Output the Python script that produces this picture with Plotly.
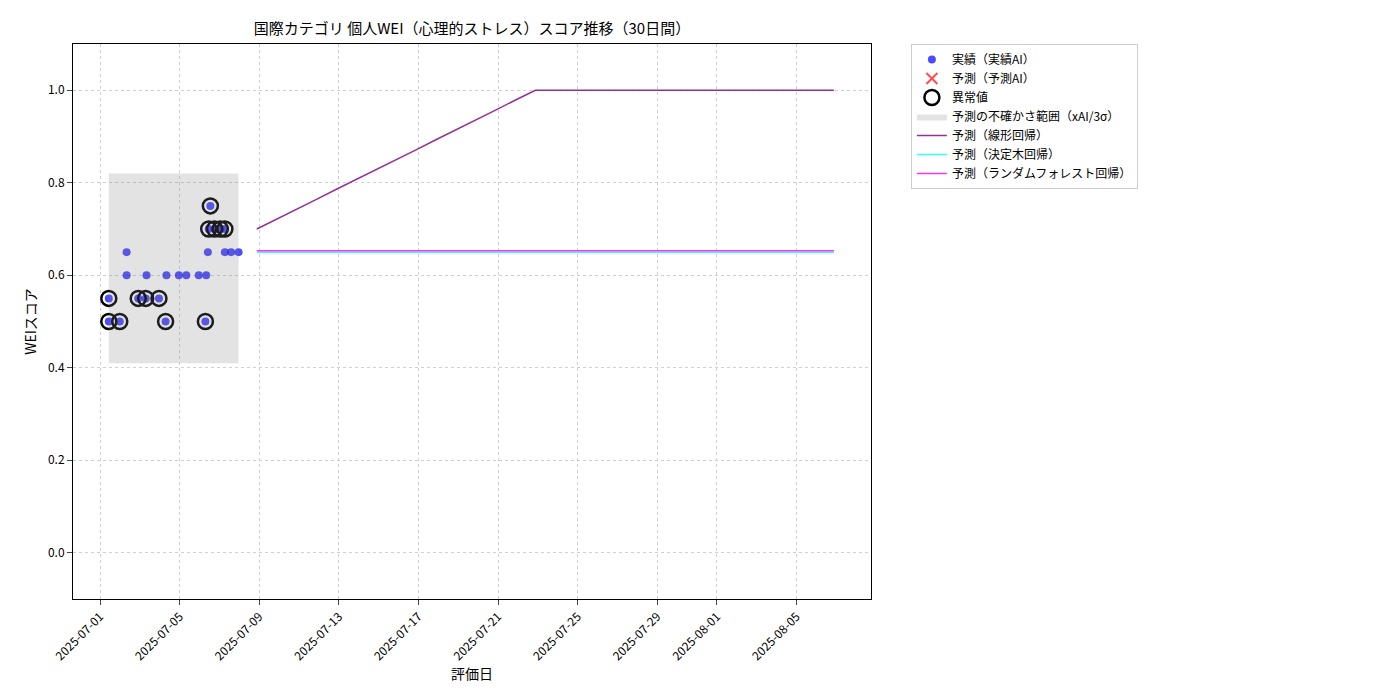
import plotly.graph_objects as go
import pandas as pd

act_x = ["2025-07-01 10:30","2025-07-01 10:30","2025-07-01 23:45","2025-07-02 08:00","2025-07-02 08:00",
         "2025-07-02 22:00","2025-07-03 07:00","2025-07-03 08:00","2025-07-03 23:00","2025-07-04 07:00",
         "2025-07-04 08:00","2025-07-04 23:00","2025-07-05 08:00","2025-07-05 23:00","2025-07-06 07:00",
         "2025-07-06 08:00","2025-07-06 10:00","2025-07-06 11:00","2025-07-06 13:00","2025-07-06 18:00",
         "2025-07-07 01:00","2025-07-07 06:30","2025-07-07 06:30","2025-07-07 14:00","2025-07-07 23:00"]
act_y = [0.55,0.50,0.50,0.65,0.60,
         0.55,0.55,0.60,0.55,0.50,
         0.60,0.60,0.60,0.60,0.50,
         0.60,0.65,0.70,0.75,0.70,
         0.70,0.70,0.65,0.65,0.65]
anom_x = ["2025-07-01 10:30","2025-07-01 10:30","2025-07-01 23:45","2025-07-02 22:00","2025-07-03 07:00",
          "2025-07-03 23:00","2025-07-04 07:00","2025-07-06 07:00","2025-07-06 11:00","2025-07-06 13:00",
          "2025-07-06 18:00","2025-07-07 01:00","2025-07-07 06:30"]
anom_y = [0.55,0.50,0.50,0.55,0.55,0.55,0.50,0.50,0.70,0.75,0.70,0.70,0.70]
band_x = ["2025-07-01 10:30","2025-07-07 23:00"]
band_lo = [0.41,0.41]
band_hi = [0.82,0.82]
pred_dates = pd.date_range("2025-07-08 21:00", periods=30, freq="D")
lin = [0.700,0.721,0.743,0.764,0.786,0.807,0.829,0.850,0.871,0.893,0.914,0.936,0.957,0.979,1.0] + [1.0]*15
tree = [0.650]*30
rf = [0.653]*30
tickvals = ["2025-07-01","2025-07-05","2025-07-09","2025-07-13","2025-07-17","2025-07-21",
            "2025-07-25","2025-07-29","2025-08-01","2025-08-05"]

fig = go.Figure()
fig.add_trace(go.Scatter(x=act_x, y=act_y, mode="markers", name="実績（実績AI）",
                         marker=dict(color="rgba(0,0,255,0.7)", size=8)))
fig.add_trace(go.Scatter(x=[None], y=[None], mode="markers", name="予測（予測AI）",
                         marker=dict(color="rgba(255,0,0,0.7)", size=11, symbol="x-thin", line=dict(color="rgba(255,0,0,0.7)", width=2))))
fig.add_trace(go.Scatter(x=anom_x, y=anom_y, mode="markers", name="異常値",
                         marker=dict(color="rgba(0,0,0,0)", size=15, line=dict(color="black", width=2.5))))
fig.add_trace(go.Scatter(x=band_x + band_x[::-1], y=band_hi + band_lo[::-1], fill="toself",
                         fillcolor="rgba(128,128,128,0.22)", line=dict(width=0), mode="lines",
                         name="予測の不確かさ範囲（xAI/3σ）"))
fig.add_trace(go.Scatter(x=pred_dates, y=lin, mode="lines", name="予測（線形回帰）", line=dict(color="#8B1A8B", width=1.5), opacity=0.9))
fig.add_trace(go.Scatter(x=pred_dates, y=tree, mode="lines", name="予測（決定木回帰）", line=dict(color="cyan", width=1.5), opacity=0.8))
fig.add_trace(go.Scatter(x=pred_dates, y=rf, mode="lines", name="予測（ランダムフォレスト回帰）", line=dict(color="magenta", width=1.5), opacity=0.8))

fig.update_layout(
    width=1400, height=700, plot_bgcolor="white", paper_bgcolor="white",
    font=dict(family="Noto Sans CJK JP", size=12, color="black"),
    margin=dict(l=65, r=537, t=36, b=109),
    title=dict(text="国際カテゴリ 個人WEI（心理的ストレス）スコア推移（30日間）", x=464/1400, xanchor="center",
               yref="container", y=1-21/700, yanchor="middle", font=dict(size=15)),
    legend=dict(x=1.05, y=1.0, xanchor="left", yanchor="top", bordercolor="#ccc", borderwidth=1, font=dict(size=12), tracegroupgap=0),
    showlegend=True,
)
fig.update_xaxes(range=["2025-06-29 15:20","2025-08-08 17:45"], tickvals=tickvals, ticktext=tickvals, tickangle=-45,
                 showline=True, linecolor="black", mirror=True, ticks="outside", automargin=False,
                 showgrid=True, gridcolor="#d0d0d0", griddash="dot", title=dict(text="評価日", standoff=2), zeroline=False)
fig.update_yaxes(range=[-0.1, 1.1], tickvals=[0,0.2,0.4,0.6,0.8,1.0], tickformat=".1f",
                 showline=True, linecolor="black", mirror=True, ticks="outside", automargin=False,
                 showgrid=True, gridcolor="#d0d0d0", griddash="dot", title=dict(text="WEIスコア", standoff=8), zeroline=False)
fig.write_html("out.html")
